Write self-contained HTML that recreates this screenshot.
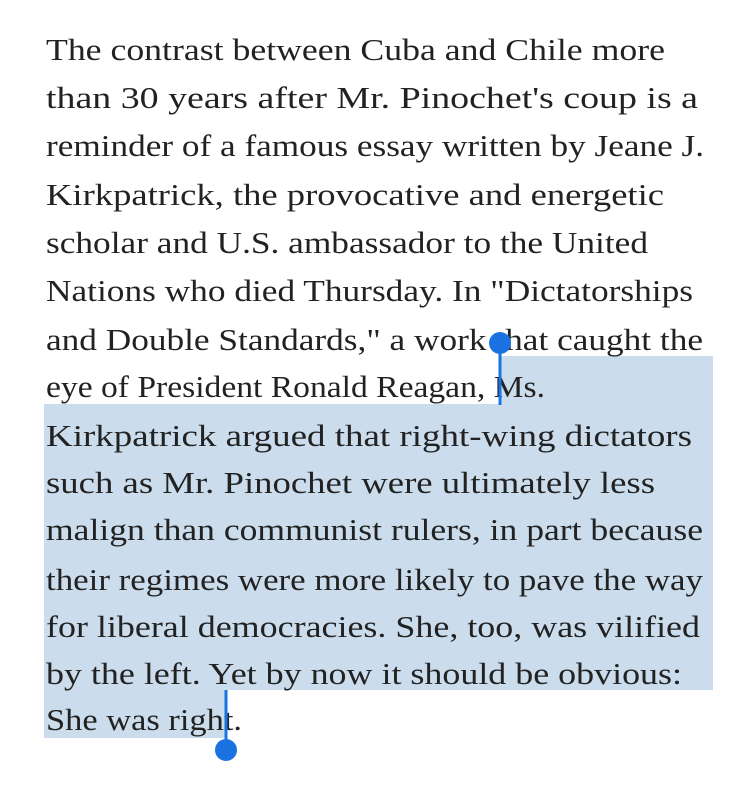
<!DOCTYPE html>
<html><head><meta charset="utf-8"><style>
html,body{margin:0;padding:0;background:#fff;width:749px;height:802px;overflow:hidden}
svg{display:block}
text{font-family:"Liberation Serif",serif;font-size:31px;fill:#222}
</style></head><body>
<svg width="749" height="802">
<path fill="#cbdcec" d="M500 356 H713 V690 H226 V738 H44 V404 H500 Z"/>
<g>
<text x="46" y="60" textLength="619" lengthAdjust="spacingAndGlyphs">The contrast between Cuba and Chile more</text>
<text x="46" y="108" textLength="652" lengthAdjust="spacingAndGlyphs">than 30 years after Mr. Pinochet's coup is a</text>
<text x="46" y="156" textLength="658" lengthAdjust="spacingAndGlyphs">reminder of a famous essay written by Jeane J.</text>
<text x="46" y="205" textLength="618" lengthAdjust="spacingAndGlyphs">Kirkpatrick, the provocative and energetic</text>
<text x="46" y="253" textLength="602" lengthAdjust="spacingAndGlyphs">scholar and U.S. ambassador to the United</text>
<text x="46" y="301" textLength="647" lengthAdjust="spacingAndGlyphs">Nations who died Thursday. In "Dictatorships</text>
<text x="46" y="350" textLength="657" lengthAdjust="spacingAndGlyphs">and Double Standards," a work that caught the</text>
<text x="46" y="397" textLength="499" lengthAdjust="spacingAndGlyphs">eye of President Ronald Reagan, Ms.</text>
<text x="46" y="446" textLength="646" lengthAdjust="spacingAndGlyphs">Kirkpatrick argued that right-wing dictators</text>
<text x="46" y="493" textLength="609" lengthAdjust="spacingAndGlyphs">such as Mr. Pinochet were ultimately less</text>
<text x="46" y="540" textLength="657" lengthAdjust="spacingAndGlyphs">malign than communist rulers, in part because</text>
<text x="46" y="590" textLength="657" lengthAdjust="spacingAndGlyphs">their regimes were more likely to pave the way</text>
<text x="46" y="637" textLength="654" lengthAdjust="spacingAndGlyphs">for liberal democracies. She, too, was vilified</text>
<text x="46" y="684" textLength="636" lengthAdjust="spacingAndGlyphs">by the left. Yet by now it should be obvious:</text>
<text x="46" y="730" textLength="196" lengthAdjust="spacingAndGlyphs">She was right.</text>
</g>
<g>
<rect x="498.5" y="343" width="3" height="62" fill="#1a73e0"/>
<circle cx="500" cy="343" r="11" fill="#1a73e0"/>
</g>
<g>
<rect x="224.5" y="690" width="3" height="60" fill="#1a73e0"/>
<circle cx="226" cy="750" r="11" fill="#1a73e0"/>
</g>
</svg>
</body></html>
